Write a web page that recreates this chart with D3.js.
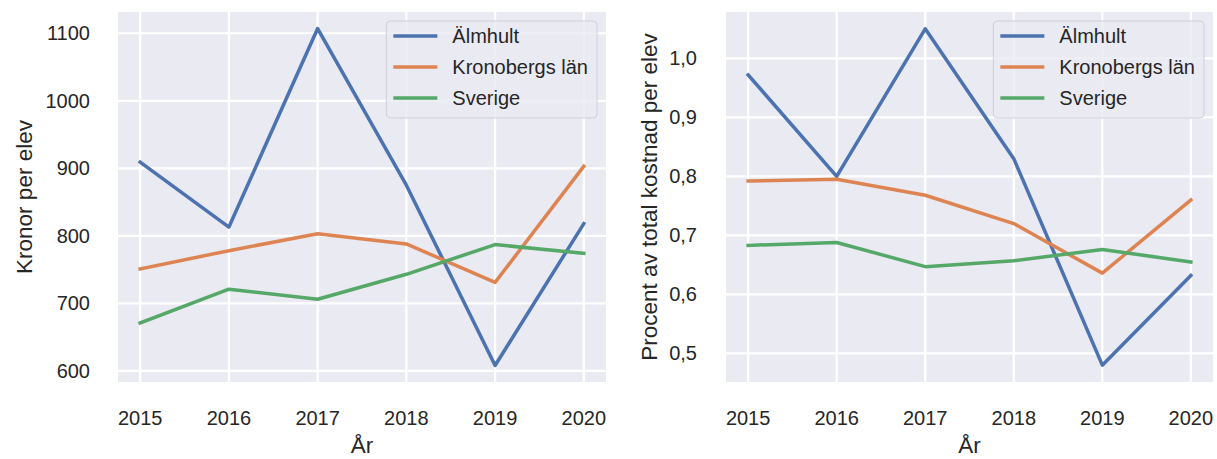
<!DOCTYPE html>
<html>
<head>
<meta charset="utf-8">
<script src="https://cdn.jsdelivr.net/npm/d3@7"></script>
<style>
  body { margin: 0; background: #fff; }
  svg text { font-family: "Liberation Sans", Arial, sans-serif; fill: #262626; }
</style>
</head>
<body>
<svg id="chart" width="1217" height="459"></svg>
<script>
// years on the x axis
const years = [2015, 2016, 2017, 2018, 2019, 2020];
const seriesNames = ["Älmhult", "Kronobergs län", "Sverige"];
const colors = ["#4C72B0", "#DD8452", "#55A868"];

// left panel: kronor per elev
const kronorAlmhult = [909, 813, 1107, 875, 608, 818];
const kronorKronoberg = [751, 778, 803, 788, 731, 903];
const kronorSverige = [671, 721, 706, 743, 787, 774];
const kronorTicks = [600, 700, 800, 900, 1000, 1100];

// right panel: procent av total kostnad per elev
const procAlmhult = [0.972, 0.800, 1.050, 0.830, 0.480, 0.632];
const procKronoberg = [0.792, 0.795, 0.768, 0.720, 0.636, 0.760];
const procSverige = [0.683, 0.688, 0.647, 0.657, 0.676, 0.655];
const procTicks = [0.5, 0.6, 0.7, 0.8, 0.9, 1.0];

const svg = d3.select("#chart");
const fontSize = 20;
const labelSize = 22.5;

function panel(opts) {
  const { left, right, top, bottom, series, ticks, yDomain, fmt, ylabel, ylabelX, tickRight } = opts;

  const x = d3.scaleLinear().domain([2014.75, 2020.25]).range([left, right]);
  const y = d3.scaleLinear().domain(yDomain).range([bottom, top]);

  const g = svg.append("g");

  g.append("rect")
    .attr("x", left).attr("y", top)
    .attr("width", right - left).attr("height", bottom - top)
    .attr("fill", "#EAEAF2");

  // grid
  g.append("g").selectAll("line").data(years).join("line")
    .attr("x1", d => x(d)).attr("x2", d => x(d))
    .attr("y1", top).attr("y2", bottom)
    .attr("stroke", "#fff").attr("stroke-width", 2.2);
  g.append("g").selectAll("line").data(ticks).join("line")
    .attr("x1", left).attr("x2", right)
    .attr("y1", d => y(d)).attr("y2", d => y(d))
    .attr("stroke", "#fff").attr("stroke-width", 2.2);

  // x tick labels
  g.append("g").selectAll("text").data(years).join("text")
    .attr("x", d => x(d)).attr("y", 425)
    .attr("text-anchor", "middle")
    .attr("font-size", fontSize)
    .text(d => d);

  // y tick labels
  g.append("g").selectAll("text").data(ticks).join("text")
    .attr("x", tickRight).attr("y", d => y(d))
    .attr("dy", "0.35em")
    .attr("text-anchor", "end")
    .attr("font-size", fontSize)
    .text(d => fmt(d));

  // axis labels
  g.append("text")
    .attr("x", (left + right) / 2).attr("y", 453)
    .attr("text-anchor", "middle")
    .attr("font-size", labelSize)
    .text("År");
  g.append("text")
    .attr("transform", `translate(${ylabelX},${(top + bottom) / 2}) rotate(-90)`)
    .attr("text-anchor", "middle")
    .attr("font-size", labelSize)
    .text(ylabel);

  // lines
  const line = d3.line().x((d, i) => x(years[i])).y(d => y(d));
  g.append("g").selectAll("path").data(series).join("path")
    .attr("d", d => line(d))
    .attr("fill", "none")
    .attr("stroke", (d, i) => colors[i])
    .attr("stroke-width", 3.5)
    .attr("stroke-linejoin", "round")
    .attr("stroke-linecap", "square");

  // legend
  const lg = g.append("g");
  const box = lg.append("rect");
  const labels = lg.selectAll("text").data(seriesNames).join("text")
    .attr("y", (d, i) => 36 + i * 31)
    .attr("dy", "0.35em")
    .attr("font-size", fontSize)
    .text(d => d);
  const maxW = d3.max(labels.nodes(), n => n.getComputedTextLength());
  const boxRight = right - 9;
  const textX = boxRight - 9 - maxW;
  const boxLeft = textX - 66;
  labels.attr("x", textX);
  lg.selectAll("line").data(seriesNames).join("line")
    .attr("x1", boxLeft + 7).attr("x2", boxLeft + 51)
    .attr("y1", (d, i) => 36 + i * 31).attr("y2", (d, i) => 36 + i * 31)
    .attr("stroke", (d, i) => colors[i])
    .attr("stroke-width", 3.5);
  box.attr("x", boxLeft).attr("y", top + 9)
    .attr("width", boxRight - boxLeft).attr("height", 97)
    .attr("rx", 4)
    .attr("fill", "#EAEAF2").attr("fill-opacity", 0.8)
    .attr("stroke", "#cfcfd6").attr("stroke-width", 1);
}

const fmtComma = d => d3.format(".1f")(d).replace(".", ",");

panel({
  left: 118, right: 606, top: 12, bottom: 382,
  series: [kronorAlmhult, kronorKronoberg, kronorSverige],
  ticks: kronorTicks, yDomain: [583.5, 1131.5], fmt: d => d,
  ylabel: "Kronor per elev", ylabelX: 32, tickRight: 90
});

panel({
  left: 726, right: 1213, top: 12, bottom: 382,
  series: [procAlmhult, procKronoberg, procSverige],
  ticks: procTicks, yDomain: [0.4515, 1.0785], fmt: fmtComma,
  ylabel: "Procent av total kostnad per elev", ylabelX: 657, tickRight: 697
});
</script>
</body>
</html>
